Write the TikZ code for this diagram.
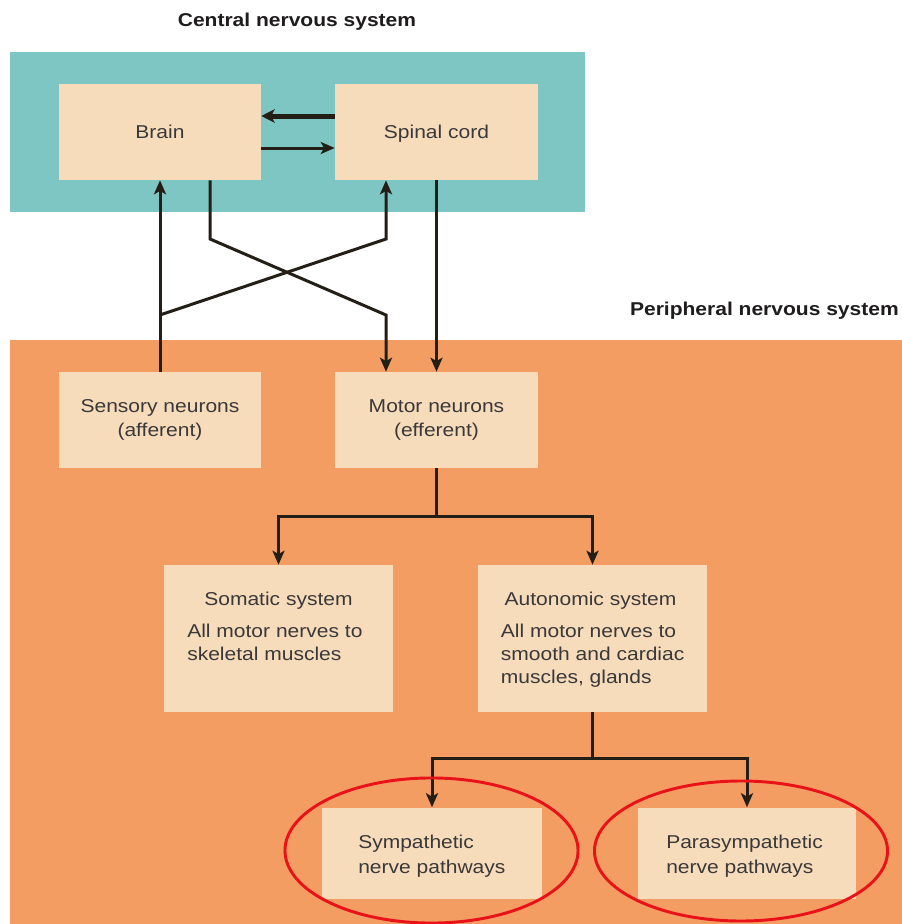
\documentclass[tikz,border=0pt]{standalone}
\usepackage{fontspec}
\setmainfont{Liberation Sans}[FakeStretch=1.13]
\usetikzlibrary{arrows.meta}

\definecolor{cnsteal}{RGB}{125,198,196}
\definecolor{pnsorange}{RGB}{244,157,99}
\definecolor{boxfill}{RGB}{247,220,188}
\definecolor{inkline}{RGB}{35,31,22}
\definecolor{labelgray}{RGB}{58,56,56}
\definecolor{titleink}{RGB}{30,28,28}
\definecolor{ringred}{RGB}{232,18,24}

\newcommand{\labelfont}{\fontsize{13.95}{18.3}\selectfont}
% left-aligned block whose reference point is the first baseline
\newcommand{\leftlines}[2][17.3]{{\fontsize{13.95}{#1}\selectfont
  \begin{tabular}[t]{@{}l@{}}#2\end{tabular}}}

\begin{document}
\begin{tikzpicture}[x=0.75pt,y=-0.75pt,
  px size/.style 2 args={minimum width=#1*0.75pt, minimum height=#2*0.75pt},
  box/.style={fill=boxfill, draw=none, inner sep=0pt, text=labelgray,
              font=\labelfont, align=center},
  boxtext/.style={inner sep=0pt, text=labelgray, font=\labelfont},
  title/.style={inner sep=0pt, text=titleink, font=\labelfont\bfseries},
  wire/.style={draw=inkline, line width=2.25pt},
  conn/.style={wire, -{Stealth[length=10.5pt,width=9pt,inset=2.5pt]}},
  ring/.style={draw=ringred, line width=2.2pt}]

  % canvas
  \useasboundingbox (0,0) rectangle (902,924);
  \fill[white] (0,0) rectangle (902,924);

  % the two system panels
  \fill[cnsteal]   (10,52)  rectangle (585,212);
  \fill[pnsorange] (10,340) rectangle (902,924);

  \node[title, anchor=base] (cnstitle) at (297,27) {Central nervous system};
  \node[title, anchor=base east] (pnstitle) at (899,315) {Peripheral nervous system};

  % central nervous system
  \node[box, text depth=0pt, px size={202}{96}] (brain)  at (160,132)   {Brain};
  \node[box, text depth=0pt, px size={203}{96}] (spinal) at (436.5,132) {Spinal cord};

  % peripheral nervous system
  \node[box, px size={202}{96}] (sensory) at (160,420)   {Sensory neurons\\(afferent)};
  \node[box, px size={203}{96}] (motor)   at (436.5,420) {Motor neurons\\(efferent)};

  \node[box, px size={229}{147}] (somatic)   at (278.5,638.5) {};
  \node[box, px size={229}{147}] (autonomic) at (592.5,638.5) {};
  \node[boxtext, anchor=base] (somtitle) at (278.5,605) {Somatic system};
  \node[boxtext, anchor=base west] (sombody) at (187,637.7)
       {\leftlines{All motor nerves to\\skeletal muscles}};
  \node[boxtext, anchor=base] (auttitle) at (590.5,605) {Autonomic system};
  \node[boxtext, anchor=base west] (autbody) at (500.7,637.7)
       {\leftlines{All motor nerves to\\smooth and cardiac\\muscles, glands}};

  \node[box, px size={220}{91}] (symp) at (432,853) {};
  \node[box, px size={218}{91}] (para) at (747,853) {};
  \node[boxtext, anchor=base west] (symptext) at (358,848.3)
       {\leftlines[18.75]{Sympathetic\\nerve pathways}};
  \node[boxtext, anchor=base west] (paratext) at (666,848.3)
       {\leftlines[18.75]{Parasympathetic\\nerve pathways}};

  % brain <-> spinal cord
  \draw[wire, line width=3.75pt, -{Stealth[length=10pt,width=10pt,inset=2.5pt]}]
       (spinal.west |- 0,116) -- (brain.east |- 0,116);
  \draw[conn] (brain.east |- 0,148) -- (spinal.west |- 0,148);

  % crossing pathways between the two levels
  \coordinate (senfork) at (160,315);
  \coordinate (senbend) at (386,239);
  \coordinate (brbend)  at (210,239);
  \coordinate (brfoot)  at (386,315);

  \draw[conn] (sensory.north) -- (brain.south);
  \draw[conn] (senfork) -- (senbend) -- (senbend |- spinal.south);
  \draw[conn] (brbend |- brain.south) -- (brbend) -- (brfoot) -- (brfoot |- motor.north);
  \draw[conn] (spinal.south) -- (motor.north);

  % motor branches
  \coordinate (motjoin) at (436.5,516);
  \draw[wire] (motor.south) -- (motjoin);
  \draw[conn] (motjoin) -| (somatic.north);
  \draw[conn] (motjoin) -| (autonomic.north);

  % autonomic branches
  \coordinate (autjoin) at (592.5,758);
  \draw[wire] (autonomic.south) -- (autjoin);
  \draw[conn] (autjoin) -| (symp.north);
  \draw[conn] (autjoin) -| (para.north);

  % highlight rings
  \draw[ring] (431.5,850.5) ellipse [x radius=109.9pt, y radius=54.4pt];
  \draw[ring] (741,851) ellipse [x radius=109.9pt, y radius=52.5pt];
\end{tikzpicture}
\end{document}
